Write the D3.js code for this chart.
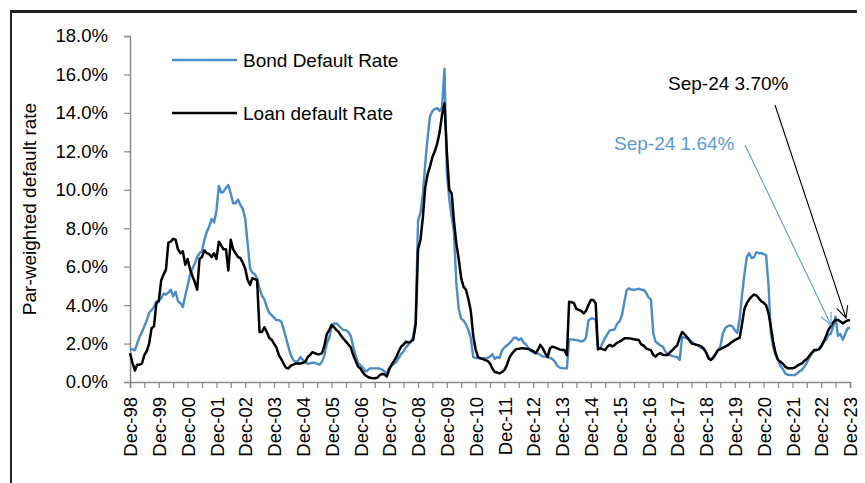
<!DOCTYPE html>
<html>
<head>
<meta charset="utf-8">
<script src="https://cdn.jsdelivr.net/npm/d3@7"></script>
<style>
body{margin:0;background:#fff;}
text{font-family:"Liberation Sans",Arial,sans-serif;}
</style>
</head>
<body>
<svg id="chart" width="865" height="483"></svg>
<script>
// monthly series, Dec-98 .. Dec-23 (%), one row per year
let startMonth = new Date(1998, 11, 1);
let bondRate = [
    1.74, 1.7, 1.65, 2.0, 2.35, 2.6, 2.9, 3.2, 3.6, 3.75, 3.9, 4.2,
    4.25, 4.35, 4.6, 4.55, 4.65, 4.8, 4.45, 4.7, 4.2, 4.1, 3.9, 4.5,
    5.0, 5.6, 5.9, 6.15, 6.5, 6.7, 6.8, 7.4, 7.8, 8.1, 8.5, 8.3,
    8.9, 10.2, 9.85, 9.9, 10.1, 10.25, 9.8, 9.3, 9.3, 9.5, 9.2, 9.0,
    8.5, 7.2, 5.9, 5.7, 5.6, 5.4, 4.85, 4.5, 4.3, 3.9, 3.6, 3.48,
    3.35, 3.22, 3.22, 3.15, 2.75, 2.3, 1.83, 1.4, 1.15, 1.04, 1.1, 1.3,
    1.15, 1.04, 0.95, 0.97, 1.0, 1.0, 0.95, 0.9, 1.05, 1.4, 2.0, 2.3,
    2.9, 3.05, 3.05, 2.95, 2.8, 2.7, 2.7, 2.6, 2.4, 1.84, 1.4, 1.0,
    0.88, 0.75, 0.55, 0.6, 0.71, 0.71, 0.71, 0.71, 0.7, 0.65, 0.55, 0.45,
    0.75, 0.85, 0.95, 1.05, 1.25, 1.45, 1.6, 1.8, 1.95, 2.1, 2.35, 3.2,
    8.4, 8.8, 9.8, 11.3, 12.7, 13.8, 14.1, 14.2, 14.25, 14.1, 14.3, 16.3,
    10.9, 9.5, 8.6, 7.8, 5.1, 3.8, 3.3, 3.2, 3.0, 2.7, 2.3, 1.3,
    1.25, 1.25, 1.23, 1.23, 1.23, 1.25, 1.32, 1.45, 1.2, 1.3, 1.25, 1.65,
    1.8, 1.9, 2.0, 2.15, 2.3, 2.3, 2.18, 2.27, 2.05, 1.95, 1.75, 1.6,
    1.55, 1.5, 1.48, 1.4, 1.32, 1.32, 1.3, 1.25, 1.2, 1.06, 0.85, 0.75,
    0.72, 0.71, 0.71, 2.22, 2.22, 2.2, 2.18, 2.15, 2.1, 2.15, 2.3, 3.2,
    3.3, 3.3, 3.25, 1.8, 1.75, 2.05, 2.3, 2.5, 2.7, 2.7, 2.75, 3.05,
    3.15, 3.5, 4.2, 4.79, 4.87, 4.8, 4.8, 4.82, 4.85, 4.8, 4.8, 4.65,
    4.4, 4.3, 2.5, 2.1, 2.0, 1.9, 1.84, 1.6, 1.45, 1.4, 1.35, 1.32,
    1.3, 1.15, 2.36, 2.3, 2.27, 2.2, 2.1, 2.0, 1.95, 1.9, 1.78, 1.7,
    1.55, 1.32, 1.15, 1.3, 1.45, 1.66, 1.85, 2.5, 2.8, 2.9, 2.95, 2.9,
    2.7, 2.55, 3.3, 4.5, 5.6, 6.5, 6.7, 6.45, 6.5, 6.75, 6.7, 6.7,
    6.65, 6.6, 5.0, 2.6, 1.8, 1.4, 1.14, 0.85, 0.68, 0.45, 0.38, 0.36,
    0.36, 0.36, 0.45, 0.56, 0.62, 0.8, 1.0, 1.25, 1.5, 1.6, 1.66, 1.72,
    1.9, 2.05, 2.2, 2.45, 2.5, 2.88, 3.4, 2.4, 2.5, 2.2, 2.5, 2.8,
    2.8
];
let loanRate = [
    1.5, 1.0, 0.6, 0.9, 0.9, 0.96, 1.4, 1.6, 2.0, 2.8, 2.9, 4.1,
    4.2, 5.3, 5.6, 5.85, 7.25, 7.3, 7.45, 7.4, 6.9, 6.7, 6.8, 6.1,
    6.4, 5.85, 5.5, 5.2, 4.8, 6.4, 6.5, 6.85, 6.7, 6.65, 6.5, 6.7,
    6.4, 7.3, 7.1, 6.9, 6.9, 5.8, 7.4, 6.9, 6.7, 6.5, 6.45, 6.2,
    5.9, 5.3, 5.05, 5.4, 5.35, 5.3, 2.6, 2.6, 2.85, 2.6, 2.3, 2.2,
    2.0, 1.8, 1.4, 1.2, 0.95, 0.75, 0.7, 0.85, 0.9, 0.96, 0.96, 0.96,
    1.0, 1.04, 1.3, 1.4, 1.55, 1.5, 1.45, 1.45, 1.5, 1.9, 2.5, 2.7,
    2.97, 2.85, 2.7, 2.6, 2.4, 2.25, 2.1, 1.95, 1.8, 1.4, 1.1, 0.8,
    0.7, 0.5, 0.35, 0.28, 0.22, 0.2, 0.2, 0.22, 0.35, 0.42, 0.4, 0.28,
    0.65, 0.9, 1.1, 1.3, 1.6, 1.85, 1.95, 2.1, 2.05, 2.1, 2.2, 3.0,
    6.9, 7.4, 8.6, 10.1, 10.8, 11.2, 11.7, 12.0, 12.4, 13.0, 13.9, 14.5,
    12.0, 10.0, 9.8, 8.4, 7.2, 6.4, 5.4, 4.95, 4.8, 4.3, 3.7, 2.4,
    1.7, 1.3, 1.23, 1.2, 1.14, 1.1, 0.97, 0.7, 0.52, 0.49, 0.45, 0.52,
    0.62, 0.88, 1.25, 1.45, 1.6, 1.72, 1.73, 1.75, 1.75, 1.73, 1.72, 1.66,
    1.6, 1.5, 1.7, 1.93, 1.75, 1.5, 1.3, 1.75, 1.84, 1.8, 1.75, 1.7,
    1.66, 1.66, 1.4, 4.18, 4.15, 4.1, 3.8, 3.75, 3.7, 3.57, 3.7, 4.0,
    4.27, 4.27, 4.1, 1.7, 1.75, 1.7, 1.66, 1.85, 1.93, 1.85, 1.93, 2.05,
    2.1, 2.18, 2.27, 2.27, 2.27, 2.25, 2.22, 2.2, 2.18, 1.95, 1.9, 1.75,
    1.7, 1.66, 1.4, 1.32, 1.45, 1.5, 1.42, 1.4, 1.4, 1.55, 1.66, 1.8,
    1.9, 2.3, 2.6, 2.5, 2.35, 2.2, 2.0, 1.97, 1.93, 1.9, 1.85, 1.75,
    1.55, 1.23, 1.15, 1.25, 1.45, 1.66, 1.7, 1.78, 1.84, 1.9, 2.0, 2.1,
    2.18, 2.25, 2.3, 3.0, 3.8, 4.1, 4.3, 4.44, 4.55, 4.5, 4.35, 4.2,
    4.12, 4.0, 3.57, 2.9, 2.1, 1.5, 1.15, 1.05, 0.95, 0.8, 0.72, 0.71,
    0.71, 0.75, 0.85, 0.92, 0.97, 1.1, 1.2, 1.35, 1.5, 1.66, 1.66, 1.7,
    1.84, 2.1, 2.4, 2.7, 2.9, 3.1, 3.23, 3.23, 3.15, 3.05, 3.14, 3.2,
    3.23
];
let yTicks = [0, 2, 4, 6, 8, 10, 12, 14, 16, 18];
let seriesNames = ["Bond Default Rate", "Loan default Rate"];
let notes = ["Sep-24 3.70%", "Sep-24 1.64%"];
let yTitle = "Par-weighted default rate";

let bondColor = "#4a8cc8";
let loanColor = "#000000";

let svg = d3.select("#chart");

// frame
svg.append("line").attr("x1",10).attr("x2",857).attr("y1",11.5).attr("y2",11.5)
    .attr("stroke","#222").attr("stroke-width",3);
svg.append("line").attr("x1",11).attr("x2",11).attr("y1",10).attr("y2",483)
    .attr("stroke","#222").attr("stroke-width",2);

let monthDate = i => new Date(startMonth.getFullYear(), startMonth.getMonth() + i, 1);
let bond = bondRate.map((v,i) => ({date: monthDate(i), value: v}));
let loan = loanRate.map((v,i) => ({date: monthDate(i), value: v}));

let x = d3.scaleTime().domain([bond[0].date, bond[bond.length-1].date]).range([130, 850]);
let y = d3.scaleLinear().domain([0, 18]).range([382, 36]);

// ticks every 6 months, labels on December only
let tickDates = [];
for (let i = 0; i < bond.length; i += 6) tickDates.push(bond[i].date);
let fmt = d3.timeFormat("%b-%y");

let xAxis = d3.axisBottom(x).tickValues(tickDates).tickSize(6)
    .tickFormat(d => d.getMonth() === 11 ? fmt(d) : "");
let gx = svg.append("g").attr("transform","translate(0,382)").call(xAxis);
gx.selectAll("text").attr("transform","rotate(-90)").attr("x",-15).attr("y",0)
    .attr("dy","0.36em").style("text-anchor","end").style("font-size","18.5px").attr("fill","#000");

let yAxis = d3.axisLeft(y).tickValues(yTicks).tickSize(6).tickPadding(16)
    .tickFormat(d => d.toFixed(1) + "%");
let gy = svg.append("g").attr("transform","translate(130,0)").call(yAxis);
gy.selectAll("text").style("font-size","18.5px").attr("fill","#000");

[gx, gy].forEach(g => {
    g.select(".domain").attr("stroke","#8a8a8a").attr("stroke-width",1.5);
    g.selectAll(".tick line").attr("stroke","#8a8a8a").attr("stroke-width",1.2);
});

svg.append("text").attr("transform","translate(36,209) rotate(-90)")
    .style("text-anchor","middle").style("font-size","19px").text(yTitle);

let line = d3.line().x(d => x(d.date)).y(d => y(d.value));

svg.append("path").datum(bond).attr("d",line).attr("fill","none")
    .attr("stroke",bondColor).attr("stroke-width",2.4).attr("stroke-linejoin","round");
svg.append("path").datum(loan).attr("d",line).attr("fill","none")
    .attr("stroke",loanColor).attr("stroke-width",2.5).attr("stroke-linejoin","round");

// legend
let legend = [{name: seriesNames[0], color: bondColor, y: 60}, {name: seriesNames[1], color: loanColor, y: 113}];
let lg = svg.selectAll(".lg").data(legend).enter().append("g");
lg.append("line").attr("x1",172).attr("x2",237).attr("y1",d=>d.y).attr("y2",d=>d.y)
    .attr("stroke",d=>d.color).attr("stroke-width",2.4);
lg.append("text").attr("x",243).attr("y",d=>d.y).attr("dy","0.35em")
    .style("font-size","19px").text(d=>d.name);

// annotations with open arrowheads
function arrow(x1,y1,x2,y2,color){
    svg.append("line").attr("x1",x1).attr("y1",y1).attr("x2",x2).attr("y2",y2)
        .attr("stroke",color).attr("stroke-width",1.1);
    let a = Math.atan2(y2-y1, x2-x1), len = 13, spread = 0.45;
    let p1 = [x2 - len*Math.cos(a-spread), y2 - len*Math.sin(a-spread)];
    let p2 = [x2 - len*Math.cos(a+spread), y2 - len*Math.sin(a+spread)];
    svg.append("path").attr("d","M"+p1+"L"+x2+","+y2+"L"+p2)
        .attr("fill","none").attr("stroke",color).attr("stroke-width",1.1);
}
svg.append("text").attr("x",668).attr("y",83).attr("dy","0.35em")
    .style("font-size","19px").attr("fill","#000").text(notes[0]);
svg.append("text").attr("x",614).attr("y",143).attr("dy","0.35em")
    .style("font-size","19px").attr("fill","#5b9bd5").text(notes[1]);
arrow(775,105,846,318,"#000");
arrow(745,145,831,325,"#5b9bd5");
</script>
</body>
</html>
